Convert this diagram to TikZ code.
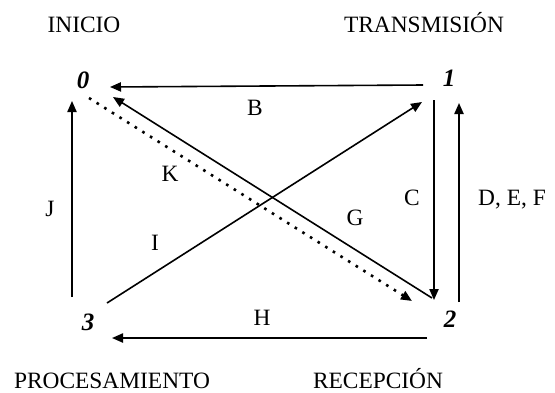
\documentclass[tikz,border=0pt]{standalone}
\usepackage{fontspec}
\setmainfont{Liberation Serif}
\usetikzlibrary{arrows.meta}

\begin{document}
\begin{tikzpicture}[x=0.5pt, y=-0.5pt,
      state/.style={inner sep=0pt, font=\fontsize{12.5}{14}\selectfont\bfseries\itshape},
      lbl/.style={inner sep=0pt, anchor=base, font=\fontsize{11.7}{14}\selectfont},
      arr/.style={-{Triangle[length=5.5pt,width=4.6pt]}, line width=0.8pt},
      dotarr/.style={-{Triangle[length=5.5pt,width=4.6pt]}, line width=1.3pt, dash pattern=on 1.3pt off 3.2pt}
    ]
    \useasboundingbox (0,0) rectangle (555,392);

    % estados
    \node[state] (n0) at (83,80) {0};
    \node[state] (n1) at (449,78) {1};
    \node[state] (n2) at (450,319) {2};
    \node[state] (n3) at (88,322) {3};

    % titulos
    \node[lbl] (inicio) at (84,32) {INICIO};
    \node[lbl] (trans) at (424,32) {TRANSMISIÓN};
    \node[lbl] (proc) at (112,388) {PROCESAMIENTO};
    \node[lbl] (recep) at (378,388) {RECEPCIÓN};

    % transiciones
    \draw[arr] ([shift={(-26,7)}]n1.center) -- ([shift={(27,7)}]n0.center);
    \draw[arr] ([shift={(-18,-21)}]n2.center) -- ([shift={(30,17)}]n0.center);
    \draw[dotarr] ([shift={(6,18)}]n0.center) -- ([shift={(-38,-18)}]n2.center);
    \draw[arr] ([shift={(19,-19)}]n3.center) -- ([shift={(-27,24)}]n1.center);
    \draw[arr] ([shift={(-15,22)}]n1.center) -- ([shift={(-16,-19)}]n2.center);
    \draw[arr] ([shift={(9,-17)}]n2.center) -- ([shift={(10,25)}]n1.center);
    \draw[arr] ([shift={(-16,-25)}]n3.center) -- ([shift={(-11,21)}]n0.center);
    \draw[arr] ([shift={(-23,19)}]n2.center) -- ([shift={(24,16)}]n3.center);

    % etiquetas
    \node[lbl] (lb) at (255,115) {B};
    \node[lbl] (lg) at (355,225) {G};
    \node[lbl] (lk) at (170,181) {K};
    \node[lbl] (li) at (155,250) {I};
    \node[lbl] (lc) at (412,205) {C};
    \node[lbl] (ldef) at (512,205) {D, E, F};
    \node[lbl] (lj) at (50,216) {J};
    \node[lbl] (lh) at (262,325) {H};
  \end{tikzpicture}
\end{document}
